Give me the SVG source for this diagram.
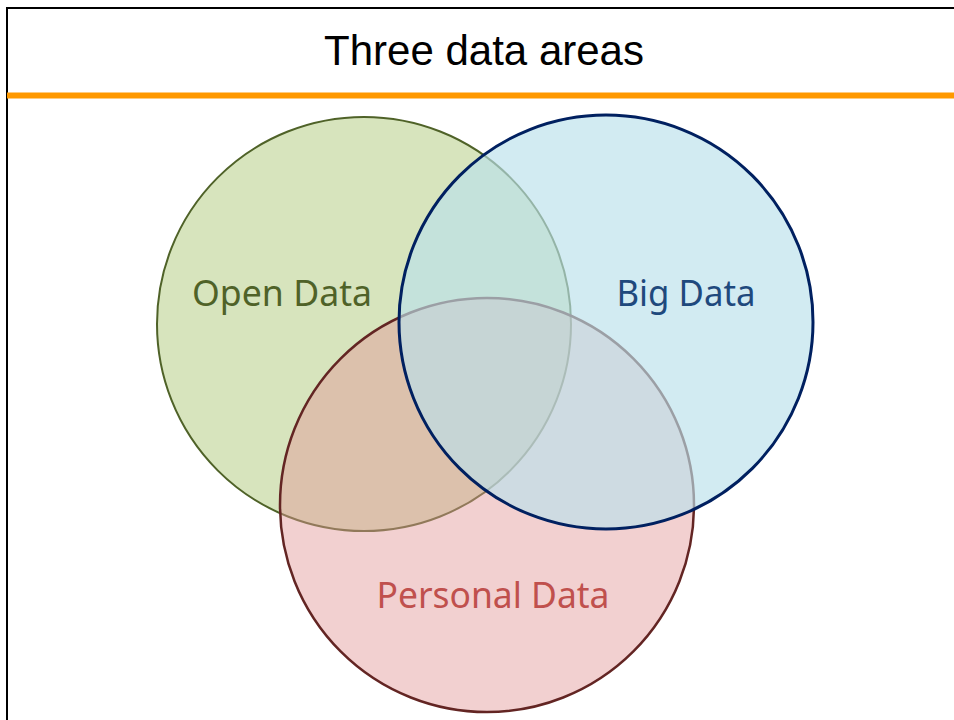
<svg xmlns="http://www.w3.org/2000/svg" width="954" height="720" viewBox="0 0 954 720">
  <style>
    .title { font-family: "Liberation Sans", Arial, sans-serif; font-size: 42px; fill: #000000; }
    .label { font-family: "Noto Sans", "Open Sans", sans-serif; font-size: 37px; }
    .green { fill: #d7e4bd; stroke: #4f6228; stroke-width: 2; }
    .red { fill: #e39697; fill-opacity: 0.45; stroke: #632523; stroke-width: 2.5; }
    .blue { fill: #bae1eb; fill-opacity: 0.65; stroke: #002060; stroke-width: 3; }
  </style>
  <rect x="0" y="0" width="954" height="720" fill="#ffffff"/>
  <g id="frame">
    <rect x="7" y="8" width="960" height="730" fill="none" stroke="#000000" stroke-width="2"/>
    <line x1="7" y1="95.5" x2="954" y2="95.5" stroke="#ff9900" stroke-width="6"/>
  </g>
  <g id="title">
    <text class="title" x="484" y="65" text-anchor="middle" textLength="320" lengthAdjust="spacingAndGlyphs">Three data areas</text>
  </g>
  <g id="open-data">
    <circle class="green" cx="364" cy="324" r="207"/>
  </g>
  <g id="personal-data">
    <circle class="red" cx="487" cy="505" r="207"/>
  </g>
  <g id="big-data">
    <circle class="blue" cx="606" cy="322" r="207"/>
  </g>
  <g id="labels">
    <text class="label" x="282" y="306" text-anchor="middle" fill="#4f6228" textLength="180" lengthAdjust="spacingAndGlyphs">Open Data</text>
    <text class="label" x="686" y="306" text-anchor="middle" fill="#1f497d" textLength="139" lengthAdjust="spacingAndGlyphs">Big Data</text>
    <text class="label" x="493" y="608" text-anchor="middle" fill="#c0504d" textLength="233" lengthAdjust="spacingAndGlyphs">Personal Data</text>
  </g>
</svg>
